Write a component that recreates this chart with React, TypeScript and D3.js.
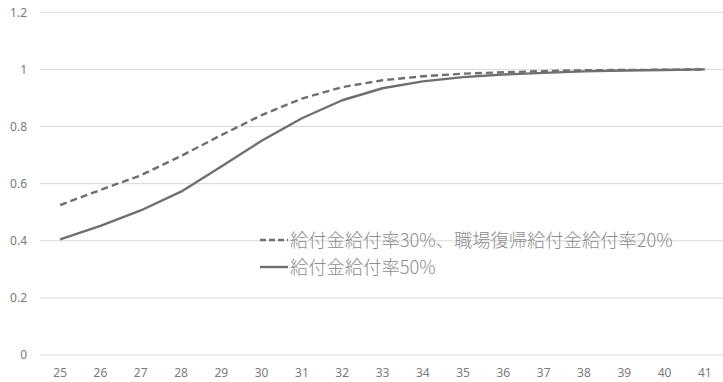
import React from "react";
import * as d3 from "d3";

const ages = [25, 26, 27, 28, 29, 30, 31, 32, 33, 34, 35, 36, 37, 38, 39, 40, 41];
const dashedValues = [0.525, 0.578, 0.629, 0.697, 0.77, 0.84, 0.898, 0.938, 0.962, 0.976, 0.985, 0.99, 0.994, 0.997, 0.998, 0.999, 1.0];
const solidValues = [0.405, 0.452, 0.506, 0.572, 0.66, 0.75, 0.829, 0.892, 0.934, 0.958, 0.973, 0.982, 0.988, 0.993, 0.996, 0.998, 1.0];
const yTicks = [0, 0.2, 0.4, 0.6, 0.8, 1, 1.2];
const legendLabels = ["給付金給付率30%、職場復帰給付金給付率20%", "給付金給付率50%"];

const W = 723;
const H = 382;
const lineColor = "#6f6f6f";
const gridColor = "#d9d9d9";
const labelColor = "#7a7a7a";

export default function App() {
  const x = d3.scaleBand<number>().domain(ages).range([40, 725]);
  const y = d3.scaleLinear().domain([0, 1.2]).range([355, 12.3]);
  const cx = (a: number) => (x(a) ?? 0) + x.bandwidth() / 2;

  const line = d3
    .line<number>()
    .x((_, i) => cx(ages[i]))
    .y((v) => y(v));

  const series = [
    { values: dashedValues, dash: "7 4", label: legendLabels[0] },
    { values: solidValues, dash: undefined, label: legendLabels[1] },
  ];

  return (
    <svg
      width={W}
      height={H}
      style={{ position: "absolute", left: 0, top: 0, background: "#fff" }}
    >
      {yTicks.map((t) => (
        <g key={t}>
          <line x1={40} x2={723} y1={y(t)} y2={y(t)} stroke={gridColor} strokeWidth={1} />
          <text
            x={27}
            y={y(t)}
            dy="0.35em"
            textAnchor="end"
            fontFamily="'Noto Sans', sans-serif"
            fontSize={12}
            fill={labelColor}
          >
            {d3.format("~g")(t)}
          </text>
        </g>
      ))}
      {ages.map((a) => (
        <text
          key={a}
          x={cx(a)}
          y={373}
          dy="0.35em"
          textAnchor="middle"
          fontFamily="'Noto Sans', sans-serif"
          fontSize={12}
          fill={labelColor}
        >
          {a}
        </text>
      ))}
      {series.map((s, i) => (
        <path
          key={i}
          d={line(s.values) ?? ""}
          fill="none"
          stroke={lineColor}
          strokeWidth={2.4}
          strokeDasharray={s.dash}
          strokeLinejoin="round"
        />
      ))}
      {series.map((s, i) => {
        const ly = 240 + i * 27;
        return (
          <g key={`lg${i}`}>
            <line
              x1={260}
              x2={288}
              y1={ly}
              y2={ly}
              stroke={lineColor}
              strokeWidth={2.4}
              strokeDasharray={s.dash ? "6 3" : undefined}
            />
            <text
              x={290}
              y={ly}
              dy="0.36em"
              fontFamily="'Noto Sans CJK JP', sans-serif"
              fontSize={18.3}
              fontWeight={300}
              fill="#8c8c8c"
            >
              {s.label}
            </text>
          </g>
        );
      })}
    </svg>
  );
}
